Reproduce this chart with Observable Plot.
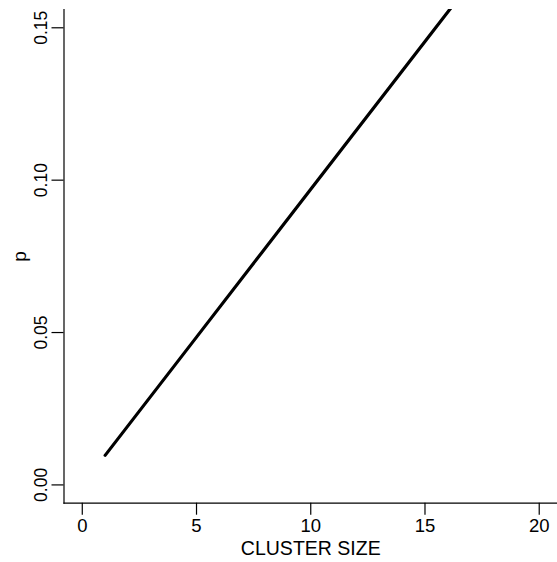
<!DOCTYPE html>
<html><head><meta charset="utf-8">
<script src="https://cdn.jsdelivr.net/npm/d3@7"></script>
<script src="https://cdn.jsdelivr.net/npm/@observablehq/plot@0.6"></script>
<style>html,body{margin:0;padding:0;background:#fff} svg{display:block}</style>
</head><body><div id="chart"></div>
<script>
const clusterSize = [1, 5, 10, 15, 20];
const pValues = [0.0097, 0.0485, 0.097, 0.1455, 0.194];
const xTicks = [0, 5, 10, 15, 20];
const yTicks = [0, 0.05, 0.10, 0.15];
const yTickLabels = ["0.00", "0.05", "0.10", "0.15"];
const xLabel = "CLUSTER SIZE";
const yLabel = "p";

const data = clusterSize.map((x, i) => ({x, p: pValues[i]}));
const font = "'Liberation Sans', Arial, Helvetica, sans-serif";

const chart = Plot.plot({
  width: 557, height: 562,
  marginLeft: 63.5, marginRight: 0, marginTop: 9, marginBottom: 59.3,
  style: {fontFamily: font, fontSize: "18px", background: "#fff", color: "#000", overflow: "visible"},
  x: {domain: [-0.8, 20.8]},
  y: {domain: [-0.006, 0.156]},
  marks: [
    Plot.axisX({ticks: xTicks, tickSize: 12, tickPadding: 4, tickFormat: d => String(d), label: null, fontSize: 18.5, stroke: "#000", strokeWidth: 1.2, strokeOpacity: 1}),
    Plot.axisY({ticks: yTicks, tickSize: 12, tickFormat: () => "", label: null, stroke: "#000", strokeWidth: 1.2, strokeOpacity: 1}),
    Plot.text(yTicks, {y: d => d, text: (d, i) => yTickLabels[i], frameAnchor: "left", dx: -22.5, rotate: -90, textAnchor: "middle", lineAnchor: "middle", fill: "#000", fontSize: 17.5}),
    Plot.frame({anchor: "left", stroke: "#000", strokeWidth: 1.2}),
    Plot.frame({anchor: "bottom", stroke: "#000", strokeWidth: 1.2}),
    Plot.line(data, {x: "x", y: "p", stroke: "#000", strokeWidth: 3.2, clip: true, strokeLinecap: "round"}),
    Plot.text([xLabel], {text: d => d, frameAnchor: "bottom", dy: 46, textAnchor: "middle", lineAnchor: "middle", fill: "#000", fontSize: 19.5}),
    Plot.text([yLabel], {text: d => d, frameAnchor: "left", dx: -44, rotate: -90, textAnchor: "middle", lineAnchor: "middle", fill: "#000", fontSize: 19})
  ]
});
document.getElementById("chart").appendChild(chart);
</script>
</body></html>
